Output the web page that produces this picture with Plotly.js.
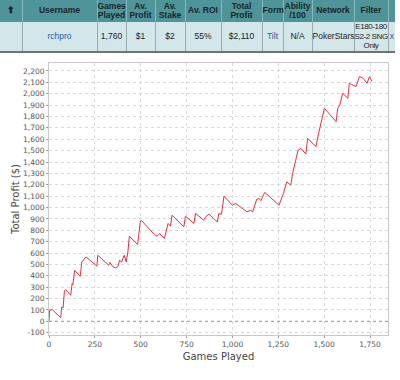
<!DOCTYPE html>
<html>
<head>
<meta charset="utf-8">
<script src="https://cdn.plot.ly/plotly-3.0.1.min.js"></script>
<style>
  html, body { margin:0; padding:0; background:#fff; width:400px; height:380px; overflow:hidden; }
  #chart { position:absolute; left:0; top:0; width:400px; height:380px; }
  #tbl { position:absolute; left:0; top:0; border-collapse:collapse; table-layout:fixed; width:395px;
         font-family:"Liberation Sans", Arial, sans-serif; z-index:2; }
  #tbl th { background:#4e9499; color:#17262e; font-weight:bold; font-size:8.5px; height:22px; padding:0;
            border-left:1px solid #86b9bd; line-height:9.5px; text-align:center; white-space:nowrap; overflow:visible; }
  #tbl td { background:#d3e7ea; color:#222; font-size:8.5px; height:29px; padding:0; text-align:center;
            border-left:1px solid #9aa9ab; border-bottom:2px solid #6d7273; line-height:9.5px; white-space:nowrap; overflow:visible; }
  #tbl td.link { color:#2c5aa8; }
  #tbl td.narrow { letter-spacing:-0.4px; font-size:8px; }
</style>
</head>
<body>
<div id="chart"></div>
<table id="tbl"></table>
<script>
// ---- table data ----
const tableHeaders = ["&#x2B06;", "Username", "Games<br>Played", "Av.<br>Profit", "Av.<br>Stake", "Av. ROI", "Total<br>Profit", "Form", "Ability<br>/100", "Network", "Filter", ""];
const tableRow = ["", "rchpro", "1,760", "$1", "$2", "55%", "$2,110", "Tilt", "N/A", "PokerStars", "E180-180<br>S2-2 SNG<br>Only", "x"];
const linkCols = [1, 7, 11];
const colWidths = [22, 75, 29, 29, 30, 36, 41, 21, 29, 42, 34, 7];

// ---- chart data (games played, cumulative profit $) ----
const games = [0,3,18,51,64,69,77,84,91,118,126,130,140,170,179,202,261,266,325,332,346,361,375,385,395,410,421,430,438,483,489,498,505,574,589,603,629,638,649,662,671,735,744,790,799,844,852,872,917,926,940,954,999,1018,1079,1100,1110,1132,1145,1155,1176,1254,1278,1296,1318,1328,1346,1358,1373,1400,1410,1455,1468,1479,1501,1565,1574,1585,1601,1629,1637,1650,1674,1692,1710,1734,1747,1760];
const profit = [0,97,103,53,32,126,120,267,279,229,331,320,449,396,522,566,484,581,493,517,484,470,480,537,520,581,522,610,748,675,772,880,885,763,748,772,728,801,860,836,933,830,924,860,948,889,915,942,874,948,940,1100,1021,1036,962,977,960,1071,1080,1060,1133,1021,1124,1226,1197,1300,1417,1505,1520,1470,1608,1535,1637,1725,1872,1755,1872,1900,2004,1960,2092,2080,2063,2150,2140,2092,2150,2110];

const xTicks = [0,250,500,750,1000,1250,1500,1750];
const yTicks = [-100,0,100,200,300,400,500,600,700,800,900,1000,1100,1200,1300,1400,1500,1600,1700,1800,1900,2000,2100,2200];

// build table
const tbl = document.getElementById('tbl');
let cg = '<colgroup>' + colWidths.map(w => '<col style="width:' + w + 'px">').join('') + '</colgroup>';
let hr = '<tr>' + tableHeaders.map((h, i) => '<th' + (i === 0 ? ' style="border-left:none"' : '') + '>' + h + '</th>').join('') + '</tr>';
let dr = '<tr>' + tableRow.map((c, i) => {
  let cls = (linkCols.includes(i) ? 'link ' : '') + (i === 10 ? 'narrow' : '');
  return '<td class="' + cls + '"' + (i === 0 ? ' style="border-left:none"' : '') + '>' + c + '</td>';
}).join('') + '</tr>';
tbl.innerHTML = cg + hr + dr;

const tickFont = { family: "DejaVu Sans, sans-serif", size: 7.5, color: "#555" };
const titleFont = { family: "DejaVu Sans, sans-serif", size: 10, color: "#444" };

Plotly.newPlot('chart', [{
  x: games, y: profit, type: 'scatter', mode: 'lines',
  line: { color: '#e2313f', width: 1 }, hoverinfo: 'skip'
}], {
  width: 400, height: 380,
  margin: { l: 49, r: 12, t: 63, b: 45 },
  paper_bgcolor: 'rgba(0,0,0,0)', plot_bgcolor: '#ffffff',
  showlegend: false,
  xaxis: {
    range: [0, 1848], tickvals: xTicks, ticktext: xTicks.map(v => v.toLocaleString('en-US')),
    tickfont: tickFont, ticks: 'outside', ticklen: 2, tickcolor: '#999',
    showgrid: true, gridcolor: '#d8d8d8', griddash: 'dot', zeroline: false,
    showline: true, linecolor: '#c8c8c8', mirror: true,
    title: { text: 'Games Played', font: titleFont, standoff: 4 }
  },
  yaxis: {
    range: [-120, 2270], tickvals: yTicks, ticktext: yTicks.map(v => v.toLocaleString('en-US')),
    tickfont: tickFont, ticks: 'outside', ticklen: 2, tickcolor: '#999',
    showgrid: true, gridcolor: '#d8d8d8', griddash: 'dot', zeroline: false,
    showline: true, linecolor: '#c8c8c8', mirror: true,
    title: { text: 'Total Profit ($)', font: titleFont, standoff: 1 }
  },
  shapes: [{
    type: 'line', xref: 'paper', x0: 0, x1: 1, yref: 'y', y0: 0, y1: 0,
    line: { color: '#8f8fd0', width: 1, dash: 'dot' }
  }]
}, { displayModeBar: false, staticPlot: true });
</script>
</body>
</html>
